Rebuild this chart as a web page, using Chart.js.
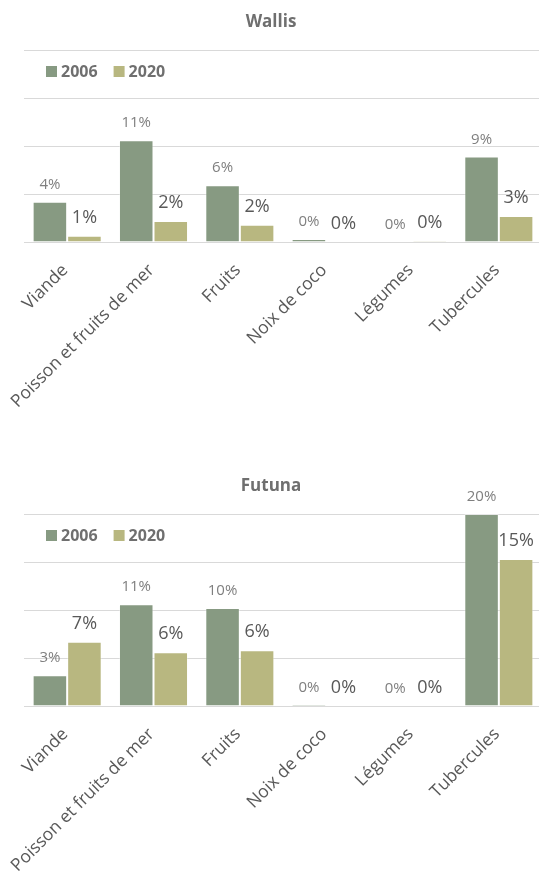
<!DOCTYPE html>
<html>
<head>
<meta charset="utf-8">
<script src="https://cdn.jsdelivr.net/npm/chart.js@4/dist/chart.umd.min.js"></script>
<style>
  html, body { margin: 0; padding: 0; background: #ffffff; overflow: hidden; width: 539px; height: 872px; }
  .box { position: absolute; left: 0; }
  canvas { display: block; }
</style>
</head>
<body>
<div class="box" style="top:0px"><canvas id="wallis" width="542" height="460"></canvas></div>
<div class="box" style="top:460px"><canvas id="futuna" width="542" height="412"></canvas></div>
<script>
const categories = ["Viande", "Poisson et fruits de mer", "Fruits", "Noix de coco", "Légumes", "Tubercules"];
const seriesLabels = ["2006", "2020"];
const wallis2006 = [4.2, 10.6, 5.9, 0.3, 0.0, 8.9];
const wallis2020 = [0.65, 2.2, 1.8, 0.0, 0.1, 2.7];
const futuna2006 = [3.2, 10.6, 10.2, 0.15, 0.05, 20.0];
const futuna2020 = [6.7, 5.6, 5.8, 0.0, 0.05, 15.3];
const yTicks = [0, 5, 10, 15, 20];
const colors = ["#879a82", "#b8b780"];

const labelsPlugin = {
  id: 'barLabels',
  afterDatasetsDraw(chart) {
    const ctx = chart.ctx;
    ctx.save();
    chart.data.datasets.forEach((ds, di) => {
      const meta = chart.getDatasetMeta(di);
      meta.data.forEach((el, i) => {
        const v = ds.data[i];
        const txt = Math.round(v) + '%';
        if (di === 0) {
          ctx.font = '15px "Open Sans"';
          ctx.fillStyle = '#7f7f7f';
        } else {
          ctx.font = '18px "Open Sans"';
          ctx.fillStyle = '#595959';
        }
        ctx.textAlign = 'center';
        ctx.textBaseline = 'alphabetic';
        ctx.fillText(txt, el.x, el.y - 13);
      });
    });
    ctx.restore();
  }
};

const legendPlugin = {
  id: 'innerLegend',
  afterDraw(chart) {
    const ctx = chart.ctx;
    const a = chart.chartArea;
    ctx.save();
    ctx.font = 'bold 16px "Open Sans"';
    ctx.textBaseline = 'middle';
    ctx.textAlign = 'left';
    let x = a.left + 22;
    const cy = a.top + 21;
    chart.data.datasets.forEach((ds) => {
      ctx.fillStyle = ds.backgroundColor;
      ctx.fillRect(x, cy - 5, 11, 11);
      ctx.fillStyle = '#6f6f6f';
      ctx.fillText(ds.label, x + 15, cy + 1);
      x += 15 + ctx.measureText(ds.label).width + 16;
    });
    ctx.restore();
  }
};

function makeChart(id, title, d1, d2, titlePadTop, titlePadBottom, xHeight) {
  return new Chart(document.getElementById(id), {
    type: 'bar',
    data: {
      labels: categories,
      datasets: [
        { label: seriesLabels[0], data: d1, backgroundColor: colors[0], borderColor: 'rgba(255,255,255,0.35)', borderWidth: 1 },
        { label: seriesLabels[1], data: d2, backgroundColor: colors[1], borderColor: 'rgba(255,255,255,0.35)', borderWidth: 1 }
      ]
    },
    options: {
      responsive: false,
      animation: false,
      devicePixelRatio: 1,
      layout: { padding: 0 },
      plugins: {
        legend: { display: false },
        tooltip: { enabled: false },
        title: {
          display: true,
          text: title,
          color: '#6f6f6f',
          font: { family: 'Open Sans', size: 17, weight: 'bold' },
          padding: { top: titlePadTop, bottom: titlePadBottom }
        }
      },
      datasets: { bar: { categoryPercentage: 0.8, barPercentage: 1.0 } },
      scales: {
        x: {
          grid: { display: false, drawTicks: false },
          border: { display: false },
          ticks: {
            color: '#595959',
            font: { family: 'Open Sans', size: 17.5 },
            minRotation: 45,
            maxRotation: 45,
            autoSkip: false,
            padding: 18,
            labelOffset: -2
          },
          afterFit(scale) { scale.height = xHeight; }
        },
        y: {
          min: yTicks[0],
          max: yTicks[yTicks.length - 1],
          afterBuildTicks(scale) { scale.ticks = yTicks.map(v => ({ value: v })); },
          ticks: { display: false },
          grid: { color: '#d9d9d9', lineWidth: 1, drawTicks: false },
          border: { display: false },
          afterFit(scale) { scale.width = 24; }
        }
      }
    },
    plugins: [labelsPlugin, legendPlugin]
  });
}

makeChart('wallis', 'Wallis', wallis2006, wallis2020, 12, 17.6, 218);
makeChart('futuna', 'Futuna', futuna2006, futuna2020, 16, 17.6, 166);
</script>
</body>
</html>
